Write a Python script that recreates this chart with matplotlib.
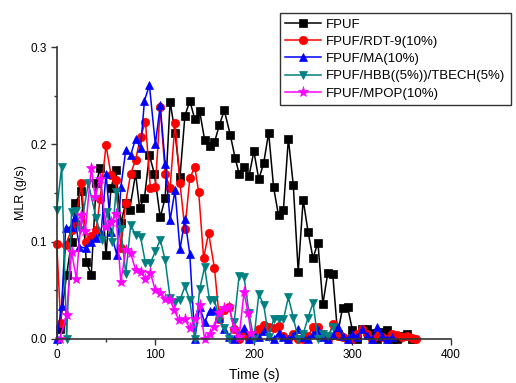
import numpy as np
import matplotlib
matplotlib.use('Agg')
import matplotlib.pyplot as plt

# ----------------------------------------------------------------------
# Dados
# ----------------------------------------------------------------------
t_fpuf = [3, 10, 15, 19, 25, 30, 35, 40, 44, 50, 55, 60, 65, 70, 74, 80, 84, 89,
          94, 99, 105, 110, 115, 120, 125, 130, 135, 140, 145, 150, 155, 160,
          165, 170, 176, 181, 185, 190, 195, 200, 205, 210, 215, 220, 225, 230,
          235, 240, 245, 250, 255, 260, 265, 270, 275, 280, 285, 290, 295, 300,
          305, 310, 315, 320, 325, 330, 335, 340, 345, 350, 355, 360]
y_fpuf = [0.010, 0.066, 0.100, 0.140, 0.152, 0.079, 0.066, 0.160, 0.176, 0.086,
          0.155, 0.174, 0.119, 0.140, 0.133, 0.170, 0.135, 0.145, 0.189, 0.170,
          0.125, 0.145, 0.244, 0.212, 0.166, 0.229, 0.245, 0.226, 0.234, 0.205,
          0.198, 0.202, 0.220, 0.235, 0.210, 0.186, 0.170, 0.177, 0.167, 0.193,
          0.164, 0.181, 0.212, 0.156, 0.127, 0.133, 0.206, 0.158, 0.069, 0.143,
          0.110, 0.083, 0.099, 0.036, 0.068, 0.067, 0.005, 0.032, 0.033, 0.009,
          0.000, 0.010, 0.010, 0.006, 0.000, 0.007, 0.009, 0.000, 0.000, 0.003,
          0.005, 0.000]

t_rdt = [0, 4, 9, 15, 19, 25, 30, 35, 40, 44, 50, 55, 60, 65, 70, 75, 80, 85,
         90, 95, 100, 105, 110, 115, 120, 125, 130, 135, 140, 144, 149, 154,
         160, 165, 170, 175, 180, 185, 190, 195, 200, 205, 210, 215, 220, 225,
         230, 235, 240, 245, 250, 255, 260, 265, 270, 275, 280, 285, 290, 295,
         300, 305, 310, 315, 320, 325, 330, 335, 340, 345, 350, 355, 360, 365]
y_rdt = [0.098, 0.016, 0.097, 0.112, 0.120, 0.160, 0.100, 0.106, 0.112, 0.144,
         0.199, 0.169, 0.163, 0.093, 0.140, 0.170, 0.184, 0.208, 0.223, 0.155,
         0.156, 0.238, 0.170, 0.155, 0.222, 0.160, 0.113, 0.165, 0.177, 0.151,
         0.083, 0.109, 0.073, 0.020, 0.030, 0.033, 0.010, 0.000, 0.005, 0.000,
         0.003, 0.010, 0.014, 0.012, 0.011, 0.013, 0.003, 0.000, 0.005, 0.000,
         0.000, 0.003, 0.012, 0.012, 0.005, 0.000, 0.015, 0.003, 0.002, 0.000,
         0.000, 0.005, 0.010, 0.005, 0.000, 0.003, 0.002, 0.000, 0.005, 0.004,
         0.002, 0.003, 0.001, 0.000]

t_ma = [0, 5, 9, 14, 18, 23, 30, 35, 40, 45, 50, 55, 61, 65, 70, 75, 80, 85,
        89, 94, 100, 105, 110, 115, 120, 125, 130, 135, 140, 145, 150, 155,
        160, 165, 170, 175, 180, 185, 190, 195, 200, 205, 210, 215, 220, 225,
        230, 235, 240, 245, 250, 255, 260, 265, 270, 275, 280, 285, 290, 295,
        300, 305, 310, 315, 320, 325, 330, 335, 340]
y_ma = [0.000, 0.034, 0.114, 0.115, 0.125, 0.095, 0.093, 0.100, 0.104, 0.109,
        0.170, 0.110, 0.086, 0.156, 0.194, 0.189, 0.206, 0.196, 0.245, 0.261,
        0.200, 0.240, 0.180, 0.122, 0.153, 0.092, 0.123, 0.087, 0.000, 0.033,
        0.017, 0.029, 0.030, 0.022, 0.010, 0.002, 0.000, 0.005, 0.011, 0.000,
        0.005, 0.002, 0.008, 0.003, 0.000, 0.006, 0.002, 0.000, 0.004, 0.010,
        0.002, 0.000, 0.005, 0.009, 0.002, 0.000, 0.004, 0.012, 0.003, 0.000,
        0.005, 0.002, 0.010, 0.004, 0.000, 0.012, 0.003, 0.000, 0.002]

t_hbb = [0, 5, 10, 15, 20, 24, 32, 40, 46, 51, 56, 60, 65, 70, 75, 80, 85, 90,
         95, 100, 105, 110, 115, 120, 125, 130, 135, 140, 145, 150, 155, 160,
         165, 170, 175, 180, 185, 190, 195, 200, 205, 210, 215, 220, 225, 230,
         235, 240, 245, 250, 255, 260, 265, 270, 275, 280]
y_hbb = [0.133, 0.177, 0.000, 0.130, 0.132, 0.112, 0.160, 0.124, 0.102, 0.131,
         0.100, 0.151, 0.113, 0.067, 0.117, 0.107, 0.105, 0.078, 0.078, 0.090,
         0.102, 0.081, 0.042, 0.038, 0.040, 0.054, 0.040, 0.000, 0.051, 0.074,
         0.040, 0.040, 0.020, 0.011, 0.000, 0.017, 0.065, 0.064, 0.027, 0.000,
         0.046, 0.035, 0.002, 0.020, 0.020, 0.020, 0.043, 0.022, 0.000, 0.005,
         0.022, 0.037, 0.000, 0.005, 0.003, 0.012]

t_mpop = [3, 10, 15, 20, 25, 29, 35, 39, 44, 50, 55, 60, 65, 70, 75, 80, 85, 90,
          95, 100, 105, 110, 115, 119, 124, 130, 135, 140, 145, 150, 155, 160,
          165, 170, 175, 180, 185, 190, 194, 197]
y_mpop = [0.000, 0.025, 0.089, 0.062, 0.127, 0.111, 0.176, 0.146, 0.164, 0.115,
          0.120, 0.128, 0.059, 0.091, 0.088, 0.071, 0.069, 0.062, 0.068, 0.050,
          0.047, 0.041, 0.040, 0.030, 0.019, 0.020, 0.011, 0.020, 0.035, 0.000,
          0.005, 0.012, 0.027, 0.032, 0.033, 0.010, 0.002, 0.048, 0.027, 0.006]

series = [
    (t_fpuf, y_fpuf, 'FPUF', 'black', 's'),
    (t_rdt, y_rdt, 'FPUF/RDT-9(10%)', 'red', 'o'),
    (t_ma, y_ma, 'FPUF/MA(10%)', 'blue', '^'),
    (t_hbb, y_hbb, 'FPUF/HBB((5%))/TBECH(5%)', '#008080', 'v'),
    (t_mpop, y_mpop, 'FPUF/MPOP(10%)', 'magenta', '*'),
]

# ----------------------------------------------------------------------
# Figura
# ----------------------------------------------------------------------
plt.rcParams['font.family'] = ['Liberation Sans', 'DejaVu Sans']

fig = plt.figure(figsize=(5.16, 3.83), dpi=100)
ax = fig.add_axes([0.110, 0.115, 0.764, 0.762])

for t, y, lab, cor, mk in series:
    ms = 8 if mk == '*' else 6
    ax.plot(t, y, color=cor, marker=mk, markersize=ms, linewidth=1.1,
            markeredgewidth=0.5, label=lab, clip_on=False)

ax.set_xlim(0, 400)
ax.set_ylim(0, 0.3)
ax.set_xticks([0, 100, 200, 300, 400])
ax.set_xticks([50, 150, 250, 350], minor=True)
ax.set_yticks([0.0, 0.1, 0.2, 0.3])
ax.set_yticks([0.05, 0.15, 0.25], minor=True)
ax.set_yticklabels(['0.0', '0.1', '0.2', '0.3'])

for s in ['top', 'right']:
    ax.spines[s].set_visible(False)
for s in ['left', 'bottom']:
    ax.spines[s].set_color('#333333')
    ax.spines[s].set_linewidth(1.2)

ax.tick_params(which='major', direction='out', length=4, width=1,
               color='#333333', labelsize=8.5, pad=3)
ax.tick_params(which='minor', direction='out', length=2, width=1,
               color='#333333')

ax.set_xlabel('Time (s)', fontsize=10, labelpad=5)
ax.set_ylabel('MLR (g/s)', fontsize=9, labelpad=12)
ax.yaxis.set_label_coords(-0.075, 0.5)

leg = fig.legend(loc='upper left', bbox_to_anchor=(0.543, 0.966),
                 bbox_transform=fig.transFigure, fontsize=9.5, frameon=True,
                 fancybox=False, edgecolor='black', borderaxespad=0,
                 handlelength=2.7, handletextpad=0.4, labelspacing=0.38,
                 borderpad=0.4)
leg.get_frame().set_linewidth(1.0)

fig.savefig('out.png', dpi=100)
